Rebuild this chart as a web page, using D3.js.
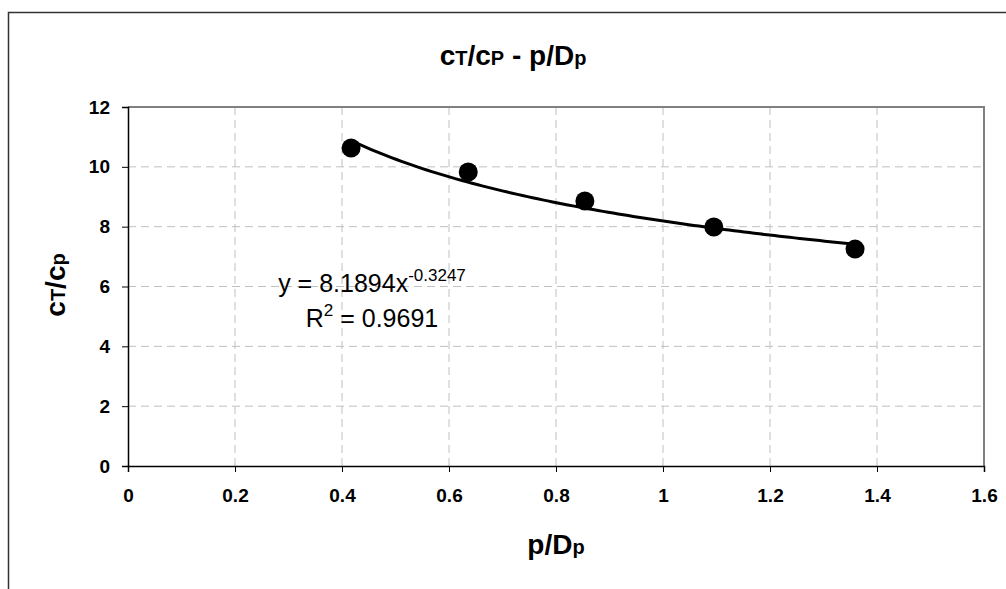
<!DOCTYPE html>
<html>
<head>
<meta charset="utf-8">
<script src="https://cdn.jsdelivr.net/npm/d3@7"></script>
<style>
  body { margin: 0; background: #fff; overflow: hidden; }
  svg { display: block; }
  text { font-family: "Liberation Sans", Arial, sans-serif; }
</style>
</head>
<body>
<div id="chart"></div>
<script>
// data
var pD = [0.417, 0.636, 0.854, 1.095, 1.359];
var ctcp = [10.63, 9.83, 8.86, 7.99, 7.25];
var xTicks = [0, 0.2, 0.4, 0.6, 0.8, 1, 1.2, 1.4, 1.6];
var yTicks = [0, 2, 4, 6, 8, 10, 12];
// power trendline as printed on the chart
var fitA = 8.1894, fitB = -0.3247, fitR2 = 0.9691;

var W = 1006, H = 589;
var margin = { left: 128, top: 107, right: 22, bottom: 123 };
var width = W - margin.left - margin.right,
    height = H - margin.top - margin.bottom;

var svg = d3.select("#chart").append("svg")
    .attr("width", W)
    .attr("height", H);

// outer chart frame
svg.append("rect")
    .attr("x", 8.5).attr("y", 12.5)
    .attr("width", 1100).attr("height", 700)
    .attr("fill", "none")
    .attr("stroke", "#333")
    .attr("stroke-width", 1.5);

var g = svg.append("g")
    .attr("transform", "translate(" + margin.left + "," + margin.top + ")");

var x = d3.scaleLinear().domain([0, 1.6]).range([0, width]);
var y = d3.scaleLinear().domain([0, 12]).range([height, 0]);

// dashed gridlines
g.selectAll(".vgrid").data(xTicks.slice(1, -1)).enter()
    .append("line")
    .attr("x1", function(d){ return x(d); })
    .attr("x2", function(d){ return x(d); })
    .attr("y1", 0).attr("y2", height)
    .attr("stroke", "#c0c0c0")
    .attr("stroke-dasharray", "8,5");

g.selectAll(".hgrid").data(yTicks.slice(1, -1)).enter()
    .append("line")
    .attr("x1", 0).attr("x2", width)
    .attr("y1", function(d){ return y(d); })
    .attr("y2", function(d){ return y(d); })
    .attr("stroke", "#c0c0c0")
    .attr("stroke-dasharray", "8,5");

// plot area border top/right (gray)
g.append("path")
    .attr("d", "M0,0H" + width + "V" + height)
    .attr("fill", "none")
    .attr("stroke", "#808080")
    .attr("stroke-width", 2);

// axes
var xAxis = g.append("g")
    .attr("transform", "translate(0," + height + ")")
    .call(d3.axisBottom(x).tickValues(xTicks).tickSize(6).tickPadding(17)
        .tickFormat(function(d){ return d3.format("")(d); }));

var yAxis = g.append("g")
    .call(d3.axisLeft(y).tickValues(yTicks).tickSize(6).tickPadding(12));

[xAxis, yAxis].forEach(function(a){
    a.select(".domain").attr("stroke", "#000").attr("stroke-width", 1.5);
    a.selectAll(".tick line").attr("stroke", "#000");
    a.selectAll(".tick text")
        .attr("fill", "#000")
        .style("font-size", "19px")
        .style("font-weight", "bold")
        .style("font-family", "'Liberation Sans', Arial, sans-serif");
});

// trendline
var xs = d3.range(101).map(function(i){
    return pD[0] + (pD[pD.length - 1] - pD[0]) * i / 100;
});
var line = d3.line()
    .x(function(d){ return x(d); })
    .y(function(d){ return y(fitA * Math.pow(d, fitB)); });

g.append("path")
    .datum(xs)
    .attr("d", line)
    .attr("fill", "none")
    .attr("stroke", "#000")
    .attr("stroke-width", 3);

// points
g.selectAll(".pt").data(pD).enter()
    .append("circle")
    .attr("cx", function(d){ return x(d); })
    .attr("cy", function(d, i){ return y(ctcp[i]); })
    .attr("r", 9.5)
    .attr("fill", "#000");

// title
var title = svg.append("text")
    .attr("x", 513).attr("y", 65)
    .attr("text-anchor", "middle")
    .attr("font-size", "28px")
    .attr("font-weight", "bold");
title.append("tspan").text("c");
title.append("tspan").attr("font-size", "20px").text("T");
title.append("tspan").text("/c");
title.append("tspan").attr("font-size", "20px").text("P");
title.append("tspan").text(" - p/D");
title.append("tspan").attr("font-size", "20px").text("p");

// x label
var xl = svg.append("text")
    .attr("x", margin.left + width / 2).attr("y", 554)
    .attr("text-anchor", "middle")
    .attr("font-size", "28px")
    .attr("font-weight", "bold");
xl.append("tspan").text("p/D");
xl.append("tspan").attr("font-size", "20px").text("p");

// y label
var yl = svg.append("text")
    .attr("transform", "translate(65,285) rotate(-90)")
    .attr("text-anchor", "middle")
    .attr("font-size", "28px")
    .attr("font-weight", "bold");
yl.append("tspan").text("c");
yl.append("tspan").attr("font-size", "20px").text("T");
yl.append("tspan").text("/c");
yl.append("tspan").attr("font-size", "20px").text("p");

// equation
var eq = svg.append("text")
    .attr("x", 372).attr("y", 292)
    .attr("text-anchor", "middle")
    .attr("font-size", "25px");
eq.append("tspan").text("y = " + fitA + "x");
eq.append("tspan").attr("font-size", "17px").attr("dy", -11).text(fitB);

var r2 = svg.append("text")
    .attr("x", 372).attr("y", 327)
    .attr("text-anchor", "middle")
    .attr("font-size", "25px");
r2.append("tspan").text("R");
r2.append("tspan").attr("font-size", "17px").attr("dy", -11).text("2");
r2.append("tspan").attr("dy", 11).text(" = " + fitR2);
</script>
</body>
</html>
